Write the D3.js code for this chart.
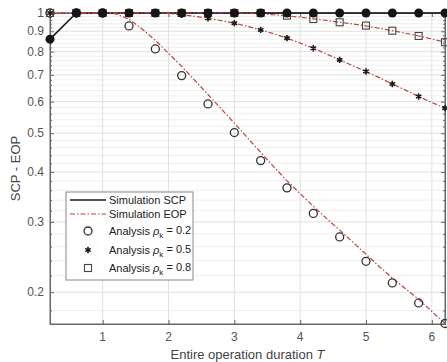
<!DOCTYPE html>
<html>
<head>
<meta charset="utf-8">
<script src="https://cdn.jsdelivr.net/npm/d3@7"></script>
<style>
  html, body { margin: 0; padding: 0; background: #fff; }
  svg { display: block; font-family: Arial, "Liberation Sans", sans-serif; }
</style>
</head>
<body>
<div id="chart"></div>
<script>
// x grid for the simulation curves
const simT = [0.2, 0.4, 0.6, 0.8, 1.0, 1.2, 1.4, 1.6, 1.8, 2.0, 2.2, 2.4, 2.6, 2.8, 3.0, 3.2,
  3.4, 3.6, 3.8, 4.0, 4.2, 4.4, 4.6, 4.8, 5.0, 5.2, 5.4, 5.6, 5.8, 6.0, 6.2];
// simulated EOP for rho_k = 0.2, 0.5, 0.8
const eop02 = [1, 1, 1, 1, 1, 0.995, 0.965, 0.912, 0.854, 0.793, 0.735, 0.678, 0.625, 0.576, 0.53, 0.487,
  0.448, 0.412, 0.38, 0.353, 0.328, 0.306, 0.286, 0.267, 0.249, 0.232, 0.217, 0.204, 0.192, 0.179, 0.167];
const eop05 = [1, 1, 1, 1, 1, 1, 1, 1, 1, 0.997, 0.99, 0.981, 0.97, 0.957, 0.943, 0.926,
  0.907, 0.887, 0.865, 0.841, 0.816, 0.79, 0.763, 0.738, 0.714, 0.689, 0.664, 0.641, 0.618, 0.597, 0.578];
const eop08 = [1, 1, 1, 1, 1, 1, 1, 1, 1, 1, 1, 1, 1, 1, 1, 0.998,
  0.994, 0.99, 0.984, 0.976, 0.967, 0.958, 0.948, 0.939, 0.928, 0.916, 0.903, 0.89, 0.876, 0.861, 0.845];

// marker positions (simulation SCP and analysis points)
const markT = [0.2, 0.6, 1.0, 1.4, 1.8, 2.2, 2.6, 3.0, 3.4, 3.8, 4.2, 4.6, 5.0, 5.4, 5.8, 6.2];
const scp = [0.86, 1, 1, 1, 1, 1, 1, 1, 1, 1, 1, 1, 1, 1, 1, 1];
const ana02 = [1, 1, 1, 0.928, 0.813, 0.697, 0.592, 0.502, 0.427, 0.365, 0.315, 0.275, 0.239, 0.211, 0.188, 0.167];
const ana05 = [1, 1, 1, 1, 1, 0.99, 0.97, 0.943, 0.907, 0.865, 0.816, 0.763, 0.714, 0.664, 0.618, 0.578];
const ana08 = [1, 1, 1, 1, 1, 1, 1, 1, 1, 0.985, 0.966, 0.948, 0.93, 0.903, 0.876, 0.845];

const xTicks = [1, 2, 3, 4, 5, 6];
const yTicks = [0.2, 0.3, 0.4, 0.5, 0.6, 0.7, 0.8, 0.9, 1];
const yTickLabels = ["0.2", "0.3", "0.4", "0.5", "0.6", "0.7", "0.8", "0.9", "1"];
const yMinor = [0.18, 0.22, 0.24, 0.26, 0.28, 0.32, 0.34, 0.36, 0.38, 0.42, 0.44, 0.46, 0.48,
  0.52, 0.54, 0.56, 0.58, 0.62, 0.64, 0.66, 0.68, 0.72, 0.74, 0.76, 0.78, 0.82, 0.84, 0.86, 0.88,
  0.92, 0.94, 0.96, 0.98];

const width = 447, height = 362;
const pl = 50, pr = 445, pt = 13, pb = 324;
const red = "#b8453f";
const axisCol = "#666";

const svg = d3.select("#chart").append("svg")
  .attr("width", width).attr("height", height);

const x = d3.scaleLinear().domain([0.2, 6.2]).range([pl, pr]);
const y = d3.scaleLog().domain([0.1665, 1]).range([pb, pt]);

// grid
const grid = svg.append("g");
grid.selectAll(".ymin").data(yMinor).join("line")
  .attr("x1", pl).attr("x2", pr)
  .attr("y1", d => y(d)).attr("y2", d => y(d))
  .attr("stroke", "#efefef").attr("stroke-width", 1);
grid.selectAll(".ymaj").data(yTicks).join("line")
  .attr("x1", pl).attr("x2", pr)
  .attr("y1", d => y(d)).attr("y2", d => y(d))
  .attr("stroke", "#e0e0e0").attr("stroke-width", 1);
grid.selectAll(".xmaj").data(xTicks).join("line")
  .attr("x1", d => x(d)).attr("x2", d => x(d))
  .attr("y1", pt).attr("y2", pb)
  .attr("stroke", "#e0e0e0").attr("stroke-width", 1);

// axes (ticks pointing inward, box on)
const yL = svg.append("g").attr("transform", `translate(${pl},0)`)
  .call(d3.axisRight(y).tickValues(yTicks).tickSize(4).tickFormat(""));
const yLm = svg.append("g").attr("transform", `translate(${pl},0)`)
  .call(d3.axisRight(y).tickValues(yMinor).tickSize(2).tickFormat(""));
const yR = svg.append("g").attr("transform", `translate(${pr},0)`)
  .call(d3.axisLeft(y).tickValues(yTicks).tickSize(4).tickFormat(""));
const yRm = svg.append("g").attr("transform", `translate(${pr},0)`)
  .call(d3.axisLeft(y).tickValues(yMinor).tickSize(2).tickFormat(""));
const xB = svg.append("g").attr("transform", `translate(0,${pb})`)
  .call(d3.axisTop(x).tickValues(xTicks).tickSize(4).tickFormat(""));
const xT = svg.append("g").attr("transform", `translate(0,${pt})`)
  .call(d3.axisBottom(x).tickValues(xTicks).tickSize(4).tickFormat(""));
[yL, yLm, yR, yRm, xB, xT].forEach(g => {
  g.select(".domain").attr("stroke", axisCol);
  g.selectAll(".tick line").attr("stroke", axisCol);
});
svg.append("rect").attr("x", pl).attr("y", pt)
  .attr("width", pr - pl).attr("height", pb - pt)
  .attr("fill", "none").attr("stroke", axisCol).attr("stroke-width", 1);

// tick labels
svg.append("g").selectAll("text").data(yTicks).join("text")
  .attr("x", pl - 6).attr("y", d => y(d)).attr("dy", "0.35em")
  .attr("text-anchor", "end").attr("font-size", 12).attr("fill", "#555")
  .text((d, i) => yTickLabels[i]);
svg.append("g").selectAll("text").data(xTicks).join("text")
  .attr("x", d => x(d)).attr("y", pb + 17)
  .attr("text-anchor", "middle").attr("font-size", 12).attr("fill", "#555")
  .text(d => d);

// axis titles
svg.append("text")
  .attr("transform", `translate(20,${(pt + pb) / 2}) rotate(-90)`)
  .attr("text-anchor", "middle").attr("font-size", 13).attr("fill", "#444")
  .text("SCP - EOP");
const xl = svg.append("text")
  .attr("x", (pl + pr) / 2).attr("y", pb + 35)
  .attr("text-anchor", "middle").attr("font-size", 13).attr("fill", "#444");
xl.append("tspan").text("Entire operation duration ");
xl.append("tspan").attr("font-style", "italic").text("T");

const plot = svg.append("g");
const line = d3.line().x(d => x(d[0])).y(d => y(d[1]));

// simulation SCP
plot.append("path")
  .attr("d", line(markT.map((t, i) => [t, scp[i]])))
  .attr("fill", "none").attr("stroke", "#1a1a1a").attr("stroke-width", 1.6);

// simulation EOP
[eop02, eop05, eop08].forEach(vals => {
  plot.append("path")
    .attr("d", line(simT.map((t, i) => [t, vals[i]])))
    .attr("fill", "none").attr("stroke", red).attr("stroke-width", 1.2)
    .attr("stroke-dasharray", "5,2,1.5,2");
});

// analysis markers
plot.append("g").selectAll("circle").data(markT.map((t, i) => [t, ana02[i]])).join("circle")
  .attr("cx", d => x(d[0])).attr("cy", d => y(d[1])).attr("r", 4)
  .attr("fill", "none").attr("stroke", "#333").attr("stroke-width", 1.3);
const star = d3.symbol(d3.symbolAsterisk, 28);
plot.append("g").selectAll("path").data(markT.map((t, i) => [t, ana05[i]])).join("path")
  .attr("transform", d => `translate(${x(d[0])},${y(d[1])})`)
  .attr("d", star).attr("fill", "none").attr("stroke", "#1a1a1a").attr("stroke-width", 1.6);
plot.append("g").selectAll("rect").data(markT.map((t, i) => [t, ana08[i]])).join("rect")
  .attr("x", d => x(d[0]) - 3.5).attr("y", d => y(d[1]) - 3.5)
  .attr("width", 7).attr("height", 7)
  .attr("fill", "none").attr("stroke", "#444").attr("stroke-width", 1.1);

// SCP markers
plot.append("g").selectAll("circle").data(markT.map((t, i) => [t, scp[i]])).join("circle")
  .attr("cx", d => x(d[0])).attr("cy", d => y(d[1])).attr("r", 4.5)
  .attr("fill", "#151515");

// legend
const lg = svg.append("g").attr("transform", "translate(66,192)");
lg.append("rect").attr("width", 127).attr("height", 88)
  .attr("fill", "#fff").attr("stroke", "#888").attr("stroke-width", 1);
const rows = [8, 22, 39, 58, 76];
lg.append("line").attr("x1", 4).attr("x2", 40).attr("y1", rows[0]).attr("y2", rows[0])
  .attr("stroke", "#1a1a1a").attr("stroke-width", 1.6);
lg.append("line").attr("x1", 4).attr("x2", 40).attr("y1", rows[1]).attr("y2", rows[1])
  .attr("stroke", red).attr("stroke-width", 1.2).attr("stroke-dasharray", "5,2,1.5,2");
lg.append("circle").attr("cx", 22).attr("cy", rows[2]).attr("r", 4)
  .attr("fill", "none").attr("stroke", "#333").attr("stroke-width", 1.3);
lg.append("path").attr("transform", `translate(22,${rows[3]})`).attr("d", star)
  .attr("fill", "none").attr("stroke", "#1a1a1a").attr("stroke-width", 1.6);
lg.append("rect").attr("x", 18.5).attr("y", rows[4] - 3.5).attr("width", 7).attr("height", 7)
  .attr("fill", "none").attr("stroke", "#444").attr("stroke-width", 1.1);

const labels = ["Simulation SCP", "Simulation EOP", "0.2", "0.5", "0.8"];
labels.forEach((lab, i) => {
  const t = lg.append("text").attr("x", 43).attr("y", rows[i]).attr("dy", "0.35em")
    .attr("font-size", 11).attr("fill", "#222");
  if (i < 2) { t.text(lab); return; }
  t.append("tspan").text("Analysis ");
  t.append("tspan").attr("font-style", "italic").text("ρ");
  t.append("tspan").attr("font-size", 8).attr("dy", "0.35em").text("k");
  t.append("tspan").attr("dy", "-0.35em").text(" = " + lab);
});
</script>
</body>
</html>
